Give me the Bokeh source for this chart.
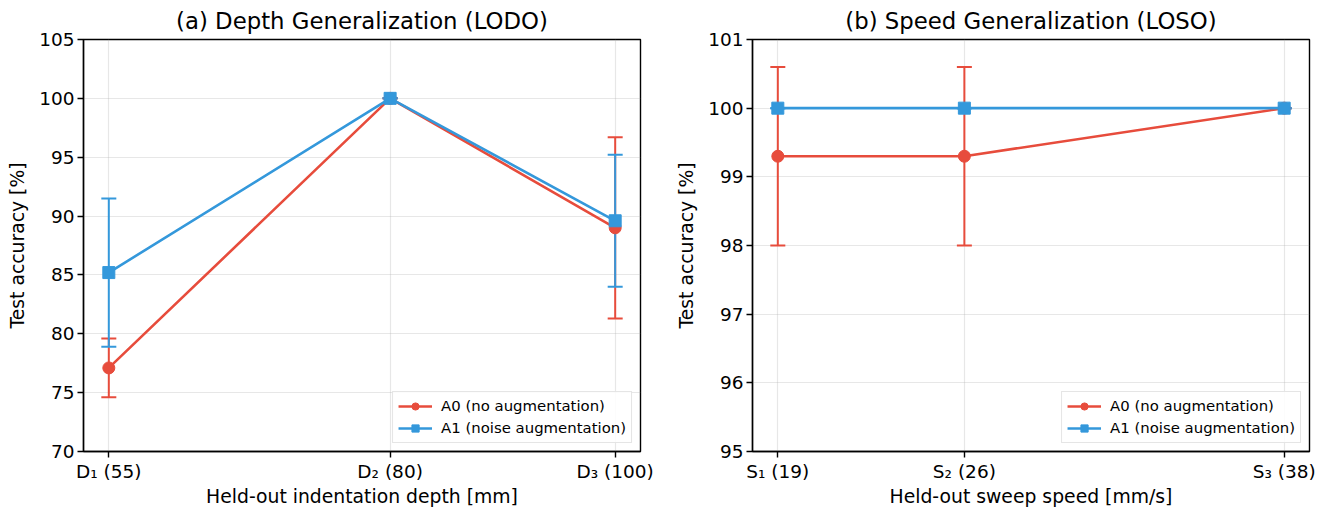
from bokeh.plotting import figure
from bokeh.models import ColumnDataSource, Whisker, TeeHead, FixedTicker, Legend, LegendItem, Range1d
from bokeh.layouts import row
from bokeh.embed import file_html
from bokeh.resources import INLINE

# ---- data ----
depth_mm = [55, 80, 100]
depth_labels = ["D\u2081 (55)", "D\u2082 (80)", "D\u2083 (100)"]
a0_depth_mean = [77.1, 100.0, 89.0]
a0_depth_std = [2.5, 0.0, 7.7]
a1_depth_mean = [85.2, 100.0, 89.6]
a1_depth_std = [6.3, 0.0, 5.6]

speed_mms = [19, 26, 38]
speed_labels = ["S\u2081 (19)", "S\u2082 (26)", "S\u2083 (38)"]
a0_speed_mean = [99.3, 99.3, 100.0]
a0_speed_std = [1.3, 1.3, 0.0]
a1_speed_mean = [100.0, 100.0, 100.0]
a1_speed_std = [0.0, 0.0, 0.0]

depth_yticks = [70, 75, 80, 85, 90, 95, 100, 105]
speed_yticks = [95, 96, 97, 98, 99, 100, 101]

series_names = ["A0 (no augmentation)", "A1 (noise augmentation)"]
RED = "#e74c3c"
BLUE = "#3498db"
FONT = "DejaVu Sans"


def panel(title, xs, xlabels, xlabel, yticks, means, stds):
    span = xs[-1] - xs[0]
    p = figure(width=669, height=509, output_backend="svg", toolbar_location=None,
               x_range=Range1d(xs[0] - 0.05 * span, xs[-1] + 0.05 * span),
               y_range=Range1d(yticks[0], yticks[-1]),
               min_border_left=83, min_border_right=29, min_border_top=39, min_border_bottom=58,
               title=title)
    p.title.align = "center"
    p.title.text_font = FONT
    p.title.text_font_size = "22.8px"
    p.title.text_font_style = "normal"
    p.title.text_color = "#000000"
    p.title.standoff = 11
    p.outline_line_color = "#000000"
    p.outline_line_width = 1.4
    p.outline_line_alpha = 1.0
    p.background_fill_color = "white"
    p.border_fill_color = "white"

    for ax in (p.xaxis[0], p.yaxis[0]):
        ax.axis_line_color = "#000000"
        ax.axis_line_width = 1.4
        ax.major_tick_line_color = "#000000"
        ax.major_tick_line_width = 1.4
        ax.major_tick_out = 6
        ax.major_tick_in = 0
        ax.minor_tick_line_color = None
        ax.major_label_text_font = FONT
        ax.major_label_text_font_size = "18.5px"
        ax.major_label_text_color = "#000000"
        ax.major_label_standoff = 3
        ax.axis_label_text_font = FONT
        ax.axis_label_text_font_size = "18.8px"
        ax.axis_label_text_font_style = "normal"
        ax.axis_label_text_color = "#000000"
    p.xaxis.ticker = FixedTicker(ticks=xs)
    p.xaxis.major_label_overrides = {x: lab for x, lab in zip(xs, xlabels)}
    p.xaxis.axis_label = xlabel
    p.xaxis.axis_label_standoff = 1
    p.yaxis.ticker = FixedTicker(ticks=yticks)
    p.yaxis.axis_label = "Test accuracy [%]"
    p.yaxis.axis_label_standoff = 8

    for g in (p.xgrid[0], p.ygrid[0]):
        g.grid_line_color = "#b0b0b0"
        g.grid_line_alpha = 0.3
        g.grid_line_width = 1.2
    p.xgrid.ticker = FixedTicker(ticks=xs)
    p.ygrid.ticker = FixedTicker(ticks=yticks)

    items = []
    for name, color, marker, m, s in zip(series_names, [RED, BLUE], ["circle", "square"], means, stds):
        src = ColumnDataSource(dict(x=xs, y=m,
                                    upper=[a + b for a, b in zip(m, s)],
                                    lower=[a - b for a, b in zip(m, s)]))
        w = Whisker(base="x", upper="upper", lower="lower", source=src, dimension="height",
                    line_color=color, line_width=2,
                    upper_head=TeeHead(size=15, line_color=color, line_width=2),
                    lower_head=TeeHead(size=15, line_color=color, line_width=2))
        p.add_layout(w)
        ln = p.line("x", "y", source=src, line_color=color, line_width=2.6)
        sc = p.scatter("x", "y", source=src, marker=marker, size=12,
                       fill_color=color, line_color=color)
        items.append(LegendItem(label=name, renderers=[ln, sc]))

    leg = Legend(items=items, location="bottom_right")
    leg.label_text_font = FONT
    leg.label_text_font_size = "14.9px"
    leg.label_text_color = "#000000"
    leg.glyph_width = 34
    leg.glyph_height = 18
    leg.label_height = 18
    leg.label_standoff = 9
    leg.spacing = 4
    leg.padding = 5
    leg.margin = 8
    leg.border_line_color = "#cccccc"
    leg.border_line_width = 1.2
    leg.background_fill_alpha = 0.85
    p.add_layout(leg, "center")
    return p


p1 = panel("(a) Depth Generalization (LODO)", depth_mm, depth_labels,
           "Held-out indentation depth [mm]", depth_yticks,
           [a0_depth_mean, a1_depth_mean], [a0_depth_std, a1_depth_std])
p2 = panel("(b) Speed Generalization (LOSO)", speed_mms, speed_labels,
           "Held-out sweep speed [mm/s]", speed_yticks,
           [a0_speed_mean, a1_speed_mean], [a0_speed_std, a1_speed_std])

layout = row(p1, p2)
open("out.html", "w").write(file_html(layout, INLINE))
